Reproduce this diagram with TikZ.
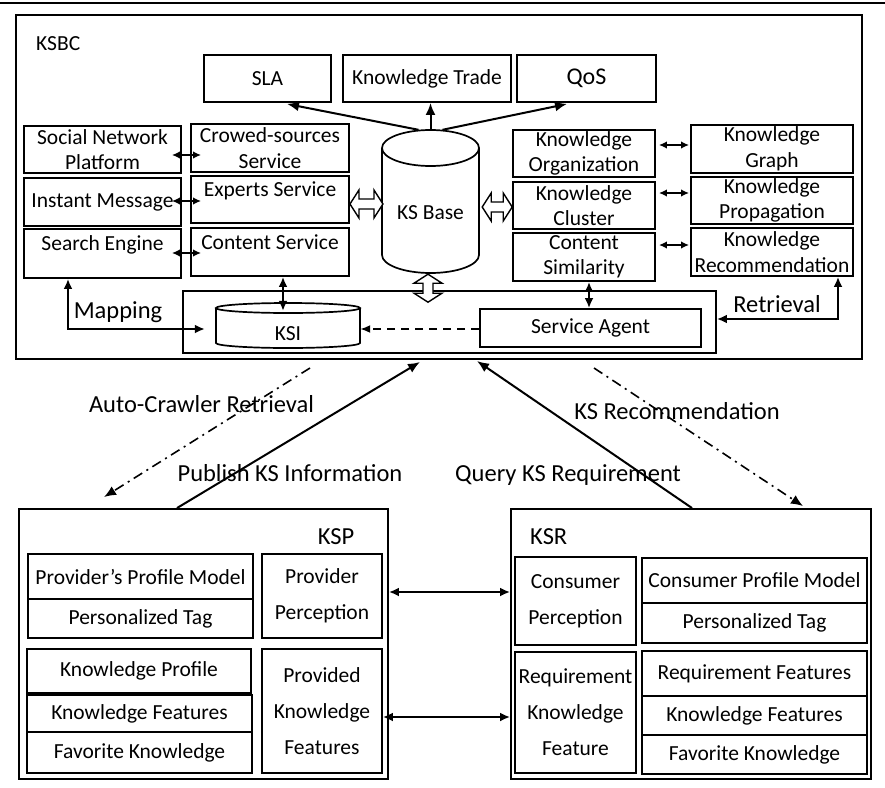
\documentclass[tikz,border=0pt]{standalone}
\usepackage{fontspec}
\setmainfont{Carlito}
\usetikzlibrary{arrows.meta,calc}
\tikzset{
  box/.style={draw, line width=1.9pt, inner sep=0pt, align=center, font=\fontsize{21.5}{25.5}\selectfont},
  txt/.style={inner sep=0pt, align=center, font=\fontsize{21.5}{25.5}\selectfont},
  lbl/.style={inner sep=0pt, font=\fontsize{24.5}{28}\selectfont},
  wide/.style={font=\fontsize{21.5}{36}\selectfont},
  conn/.style={line width=2pt, -{Latex[length=12pt,width=10pt]}},
  dconn/.style={line width=2pt, {Latex[length=10pt,width=9pt]}-{Latex[length=10pt,width=9pt]}},
  sconn/.style={line width=1.8pt, {Latex[length=8pt,width=7.5pt]}-{Latex[length=8pt,width=7.5pt]}},
  dashdot/.style={line width=1.6pt, dash pattern=on 10pt off 5pt on 2pt off 5pt, -{Latex[length=12pt,width=10pt]}},
  dashconn/.style={line width=1.8pt, dash pattern=on 8pt off 6pt, -{Latex[length=10pt,width=8pt]}},
  cyl/.style={line width=1.7pt},
  hollow/.style={line width=1.4pt, fill=white},
  pics/hollowarr/.style={code={\draw[hollow] (0,0)--(9,-14)--(9,-5)--(#1-9,-5)--(#1-9,-14)--(#1,0)--(#1-9,14)--(#1-9,5)--(9,5)--(9,14)--cycle;}},
}
\newcommand\kbox[7][]{\node[box,minimum width={#5-#3},minimum height={#6-#4},#1] (#2) at ({(#3+#5)/2},{(#4+#6)/2}) {#7};}
\begin{document}
\begin{tikzpicture}[x=1pt,y=-1pt]
\useasboundingbox (0,0) rectangle (885,787);
\draw[line width=2pt] (0,3) -- (885,3);

% KSBC container
\kbox[line width=2pt]{ksbc}{16}{15}{862}{359}{}
\node[txt,anchor=base west] (ksbclbl) at (36,50) {KSBC};

\kbox{sla}{204}{55}{331}{102}{SLA}
\kbox{kt}{343}{55}{511}{102}{Knowledge Trade}
\kbox[font=\fontsize{24}{28}\selectfont]{qos}{517}{55}{656}{102}{QoS}

\kbox{snp}{24}{126}{181}{173}{Social Network\\Platform}
\kbox{im}{24}{178}{181}{226}{Instant Message}
\kbox[label={[txt,name=setxt,yshift=8.5pt]center:Search Engine}]{se}{24}{229}{181}{278}{}
\kbox{crowd}{191}{124}{349}{172}{Crowed-sources\\Service}
\kbox[label={[txt,name=extxt,yshift=8.5pt]center:Experts Service}]{experts}{191}{176}{349}{223}{}
\kbox[label={[txt,name=cstxt,yshift=10pt]center:Content Service}]{content}{191}{228}{349}{276}{}

\kbox{korg}{513}{130}{655}{177}{Knowledge\\Organization}
\kbox{kcl}{513}{182}{655}{229}{Knowledge\\Cluster}
\kbox{csim}{513}{233}{655}{281}{Content\\Similarity}
\kbox{kgraph}{691}{125}{853}{173}{Knowledge\\Graph}
\kbox{kprop}{691}{177}{853}{224}{Knowledge\\Propagation}
\kbox{krec}{691}{228}{853}{276}{Knowledge\\Recommendation}

% KS Base cylinder
\draw[cyl] (382,148) -- (382,255) arc[start angle=180,end angle=0,x radius=48.5,y radius=18] -- (479,148);
\draw[cyl] (430.5,148) ellipse[x radius=48.5,y radius=18];
\node[inner sep=0pt, minimum width=97, minimum height=143, label={[txt,name=ksbtxt,yshift=-11.5pt]center:KS Base}] (ksbase) at (430.5,201.5) {};

% inner box, KSI, agent
\kbox{inner}{183}{291}{716}{353}{}
\draw[cyl] (216,308) -- (216,343) arc[start angle=180,end angle=0,x radius=72,y radius=5] -- (360,308);
\draw[cyl] (288,308) ellipse[x radius=72,y radius=5];
\node[inner sep=0pt, minimum width=144, minimum height=45, label={[txt,name=ksitxt,yshift=-8.5pt]center:KSI}] (ksi) at (288,325.5) {};
\kbox{agent}{480}{309}{701}{347}{Service Agent}

% arrows from KS Base
\draw[conn] ($(ksbase.north)+(-12,0)$) -- ($(sla.south)+(19.5,1)$);
\draw[conn] (ksbase.north) -- (ksbase.north |- kt.south);
\draw[conn] ($(ksbase.north)+(12,0)$) -- ($(qos.south)+(-19.5,1)$);

% short double arrows
\draw[sconn] ($(snp.east)+(-10,5.5)$) -- ($(crowd.west)+(11,7)$);
\draw[sconn] ($(im.east)+(-10,-1)$) -- ($(experts.west)+(11,1.5)$);
\draw[sconn] ($(se.east)+(-10,-0.5)$) -- ($(content.west)+(11,1)$);
\draw[sconn] ($(korg.east)+(3,-8.5)$) -- ($(kgraph.west)+(-1,-4)$);
\draw[sconn] ($(kcl.east)+(3,-12.5)$) -- ($(kprop.west)+(-1,-7.5)$);
\draw[sconn] ($(csim.east)+(3,-12)$) -- ($(krec.west)+(-1,-7)$);

% hollow arrows
\pic at ($(experts.east)+(0,4.5)$) {hollowarr=33};
\pic at ($(ksbase.east)+(3,5.5)$) {hollowarr=30};
\pic[rotate=90] at ($(ksbase.south)+(-2.5,29)$) {hollowarr=28};

% vertical connectors
\draw[dconn] ($(content.south)+(13,0)$) -- ($(ksi.north)+(-5,8)$);
\draw[dconn] ($(csim.south)+(5,0)$) -- ($(agent.north)+(-1.5,0)$);
\draw[dconn] ($(se.south)+(-34.5,0)$) |- ($(ksi.west)+(-11,3.5)$);
\draw[dconn] ($(krec.south)+(66,0)$) |- ($(inner.east)+(0,-3)$);
\draw[dashconn] ($(agent.west)+(0,1)$) -- ($(ksi.east)+(0,3.5)$);

\node[lbl,anchor=base] (maplbl) at (118,318) {Mapping};
\node[lbl,anchor=base] (retlbl) at (777,312) {Retrieval};

% KSP
\kbox{ksp}{19}{509}{388}{779}{}
\node[lbl,anchor=base] (ksplbl) at (336,544) {KSP};
\kbox{ppm}{28}{554}{253}{599}{Provider’s Profile Model}
\kbox{ptag1}{28}{599}{253}{638}{Personalized Tag}
\kbox[wide]{pperc}{262}{554}{382}{638}{Provider\\Perception}
\kbox{kprof}{27}{649}{251}{693}{Knowledge Profile}
\kbox{kfeat1}{27}{695}{252}{732}{Knowledge Features}
\kbox{fav1}{27}{732}{252}{773}{Favorite Knowledge}
\kbox[wide]{pkf}{262}{649}{382}{773}{Provided\\Knowledge\\Features}

% KSR
\kbox{ksr}{511}{509}{871}{779}{}
\node[lbl,anchor=base west] (ksrlbl) at (530,544) {KSR};
\kbox[wide]{cperc}{515}{557}{636}{645}{Consumer\\Perception}
\kbox{cpm}{642}{558}{867}{603}{Consumer Profile Model}
\kbox{ptag2}{642}{603}{867}{643}{Personalized Tag}
\kbox[wide]{rkf}{515}{652}{636}{773}{Requirement\\Knowledge\\Feature}
\kbox{rfeat}{642}{651}{867}{696}{Requirement Features}
\kbox{kfeat2}{642}{696}{867}{735}{Knowledge Features}
\kbox{fav2}{642}{735}{867}{774}{Favorite Knowledge}

% KSP <-> KSR
\draw[dconn] ($(ksp.east)+(0,-52)$) -- ($(ksr.west)+(0,-52)$);
\draw[dconn] ($(pkf.east)+(0,6)$) -- ($(ksr.west)+(0,73)$);

% between layers
\draw[conn] ($(ksp.north)+(-26.5,0)$) -- ($(ksbc.south)+(-19,2)$);
\draw[conn] ($(ksr.north)+(1,0)$) -- ($(ksbc.south)+(38,1)$);
\draw[dashdot] ($(ksbc.south)+(-129,8)$) -- ($(ksp.north)+(-99.5,-11)$);
\draw[dashdot] ($(ksbc.south)+(155,8)$) -- ($(ksr.north)+(112,-2)$);

\node[lbl,anchor=base] (acr) at (201.5,412) {Auto-Crawler Retrieval};
\node[lbl,anchor=base] (pub) at (290,481) {Publish KS Information};
\node[lbl,anchor=base] (qry) at (568,481) {Query KS Requirement};
\node[lbl,anchor=base] (ksrec) at (677,419) {KS Recommendation};
\end{tikzpicture}
\end{document}
